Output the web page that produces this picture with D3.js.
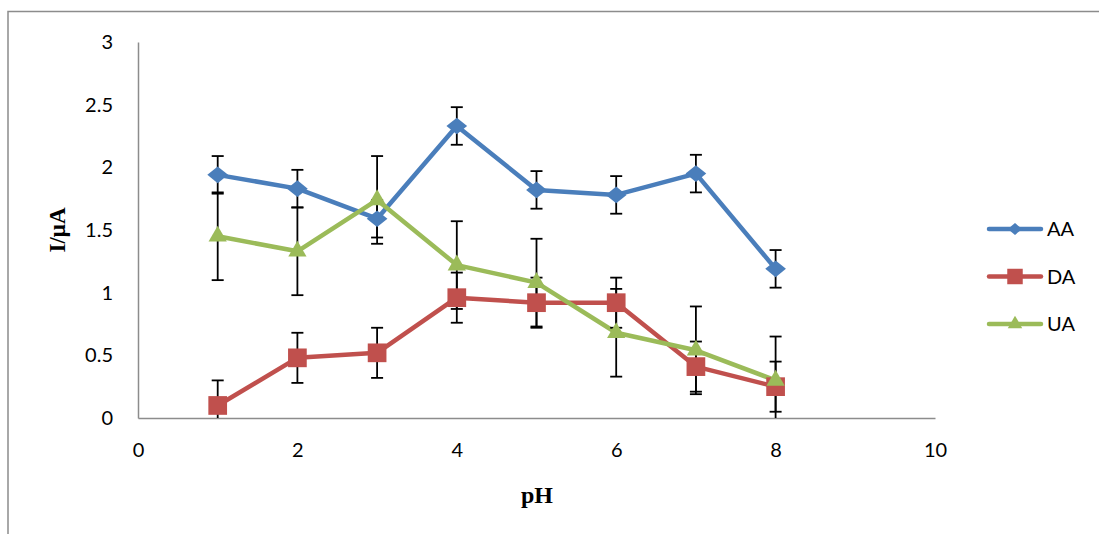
<!DOCTYPE html>
<html>
<head>
<meta charset="utf-8">
<script src="https://cdn.jsdelivr.net/npm/d3@7"></script>
<style>
  body { margin: 0; background: #fff; }
  svg { display: block; }
</style>
</head>
<body>
<svg id="chart" width="1099" height="534"></svg>
<script>
const pH = [1, 2, 3, 4, 5, 6, 7, 8];
const aa = [1.94, 1.83, 1.59, 2.33, 1.82, 1.78, 1.95, 1.19];
const aaErr = [0.15, 0.15, 0.15, 0.15, 0.15, 0.15, 0.15, 0.15];
const da = [0.1, 0.48, 0.52, 0.96, 0.92, 0.92, 0.41, 0.25];
const daErr = [0.2, 0.2, 0.2, 0.2, 0.2, 0.2, 0.2, 0.2];
const ua = [1.45, 1.33, 1.74, 1.22, 1.08, 0.68, 0.54, 0.3];
const uaErr = [0.35, 0.35, 0.35, 0.35, 0.35, 0.35, 0.35, 0.35];
const xTicks = [0, 2, 4, 6, 8, 10];
const yTicks = [0, 0.5, 1, 1.5, 2, 2.5, 3];

const series = [
  { name: "AA", values: aa, err: aaErr, color: "#4a7ebb", shape: "diamond" },
  { name: "DA", values: da, err: daErr, color: "#c0504d", shape: "square" },
  { name: "UA", values: ua, err: uaErr, color: "#9bbb59", shape: "triangle" }
];

const svg = d3.select("#chart");
const x = d3.scaleLinear().domain([0, 10]).range([138, 935]);
const y = d3.scaleLinear().domain([0, 3]).range([418, 42]);

// outer frame
svg.append("path")
  .attr("d", "M8,534 V11.5 H1099")
  .attr("fill", "none")
  .attr("stroke", "#8c8c8c")
  .attr("stroke-width", 1.5);

const font = "Lato, 'Open Sans', sans-serif";

// axes
svg.append("g")
  .attr("transform", `translate(0,${y(0)})`)
  .call(d3.axisBottom(x).tickValues(xTicks).tickSize(0).tickPadding(25))
  .call((g) => g.select(".domain").attr("stroke", "#8c8c8c").attr("stroke-width", 1.5))
  .call((g) => g.selectAll("text").attr("font-family", font).attr("font-size", 20).attr("fill", "#000"));

svg.append("g")
  .attr("transform", `translate(${x(0)},0)`)
  .call(d3.axisLeft(y).tickValues(yTicks).tickFormat(d3.format("")).tickSize(0).tickPadding(25))
  .call((g) => g.select(".domain").attr("stroke", "#8c8c8c").attr("stroke-width", 1.5))
  .call((g) => g.selectAll("text").attr("font-family", font).attr("font-size", 20).attr("fill", "#000"));

// axis titles
svg.append("text")
  .attr("transform", "translate(65,230) rotate(-90)")
  .attr("text-anchor", "middle")
  .attr("font-family", "'Liberation Serif', serif")
  .attr("font-weight", "bold")
  .attr("font-size", 23)
  .text("I/μA");

svg.append("text")
  .attr("x", 537)
  .attr("y", 503)
  .attr("text-anchor", "middle")
  .attr("font-family", "'Liberation Serif', serif")
  .attr("font-weight", "bold")
  .attr("font-size", 24)
  .text("pH");

const symbolFor = (shape) =>
  shape === "diamond"
    ? d3.symbol().type(d3.symbolDiamond2).size(175)
    : shape === "square"
    ? d3.symbol().type(d3.symbolSquare).size(350)
    : d3.symbol().type(d3.symbolTriangle2).size(240);

// lines
const line = d3.line().x((d) => x(d[0])).y((d) => y(d[1]));
series.forEach((s) => {
  svg.append("path")
    .datum(pH.map((p, i) => [p, s.values[i]]))
    .attr("d", line)
    .attr("fill", "none")
    .attr("stroke", s.color)
    .attr("stroke-width", 4.5)
    .attr("stroke-linejoin", "round");
});

// error bars
series.forEach((s) => {
  const g = svg.append("g").attr("stroke", "#000").attr("stroke-width", 1.8);
  pH.forEach((p, i) => {
    const hi = s.values[i] + s.err[i];
    const lo = s.values[i] - s.err[i];
    const top = y(hi);
    const bot = y(Math.max(lo, 0));
    g.append("line").attr("x1", x(p)).attr("x2", x(p)).attr("y1", top).attr("y2", bot);
    g.append("line").attr("x1", x(p) - 6).attr("x2", x(p) + 6).attr("y1", top).attr("y2", top);
    if (lo >= 0) {
      g.append("line").attr("x1", x(p) - 6).attr("x2", x(p) + 6).attr("y1", bot).attr("y2", bot);
    }
  });
});

// markers
series.forEach((s) => {
  svg.append("g")
    .selectAll("path")
    .data(pH.map((p, i) => [p, s.values[i]]))
    .join("path")
    .attr("transform", (d) => `translate(${x(d[0])},${y(d[1])})` + (s.shape === "diamond" ? " scale(1.25,1)" : ""))
    .attr("d", symbolFor(s.shape))
    .attr("fill", s.color);
});

// legend
const legend = svg.append("g");
series.forEach((s, i) => {
  const ly = 229 + i * 47.5;
  legend.append("line")
    .attr("x1", 989).attr("x2", 1041)
    .attr("y1", ly).attr("y2", ly)
    .attr("stroke", s.color).attr("stroke-width", 4.5).attr("stroke-linecap", "round");
  const sym = s.shape === "diamond"
    ? d3.symbol().type(d3.symbolDiamond2).size(90)
    : s.shape === "square"
    ? d3.symbol().type(d3.symbolSquare).size(240)
    : d3.symbol().type(d3.symbolTriangle2).size(150);
  legend.append("path")
    .attr("transform", `translate(1015,${ly})` + (s.shape === "diamond" ? " scale(1.2,1)" : ""))
    .attr("d", sym)
    .attr("fill", s.color);
  legend.append("text")
    .attr("x", 1047)
    .attr("y", ly)
    .attr("dy", "0.35em")
    .attr("font-family", font)
    .attr("font-size", 20)
    .text(s.name);
});
</script>
</body>
</html>
